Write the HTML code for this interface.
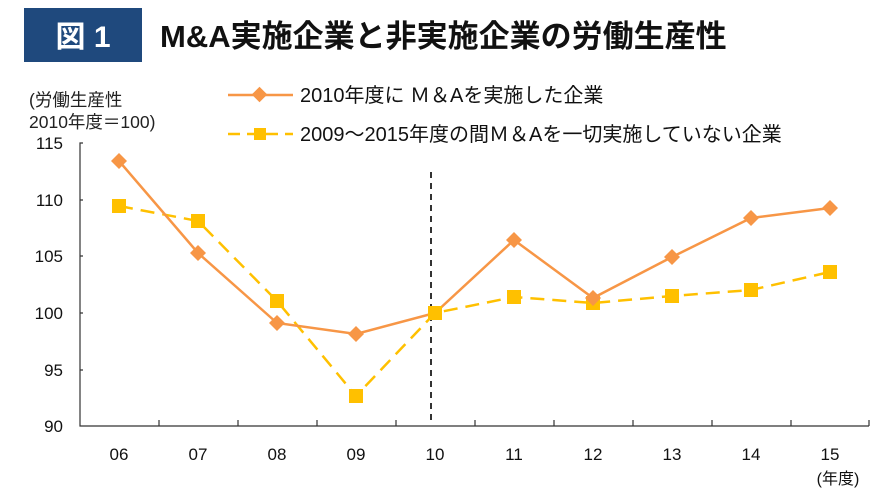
<!DOCTYPE html>
<html><head><meta charset="utf-8"><style>
body{margin:0;background:#fff;width:883px;height:491px;overflow:hidden;font-family:"Liberation Sans","Noto Sans CJK JP",sans-serif;}
</style></head><body>
<svg width="883" height="491" xmlns="http://www.w3.org/2000/svg" font-family="Liberation Sans, Noto Sans CJK JP, sans-serif">
<rect x="24" y="8" width="118" height="54" fill="#1f497d"/>
<text x="83" y="47" fill="#fff" font-size="30" font-weight="bold" text-anchor="middle">図 1</text>
<text x="160" y="47" fill="#111" font-size="31" font-weight="bold">M&amp;A実施企業と非実施企業の労働生産性</text>
<text x="29" y="106" font-size="17.5" fill="#222">(労働生産性</text>
<text x="29" y="128" font-size="17.5" fill="#222">2010年度＝100)</text>
<line x1="228" y1="95" x2="293" y2="95" stroke="#f79646" stroke-width="2.5"/>
<rect x="254" y="89" width="11" height="11" fill="#f79646" transform="rotate(45 259.5 94.5)"/>
<text x="300" y="102" font-size="20" fill="#111">2010年度に Ｍ＆Aを実施した企業</text>
<line x1="228" y1="134" x2="293" y2="134" stroke="#ffc000" stroke-width="2.5" stroke-dasharray="12,7"/>
<rect x="254" y="128" width="12" height="12" fill="#ffc000"/>
<text x="300" y="141" font-size="20" fill="#111">2009～2015年度の間Ｍ＆Aを一切実施していない企業</text>
<g font-size="17" fill="#111" text-anchor="end">
<text x="63" y="149">115</text><text x="63" y="206">110</text><text x="63" y="262">105</text>
<text x="63" y="319">100</text><text x="63" y="376">95</text><text x="63" y="432">90</text>
</g>
<g stroke="#333" stroke-width="1.2" fill="none">
<path d="M83 143 H80 V426 H869"/>
<path d="M80 200 H83 M80 256 H83 M80 313 H83 M80 370 H83"/>
<path d="M159 426 V420 M238 426 V420 M317 426 V420 M396 426 V420 M475 426 V420 M554 426 V420 M633 426 V420 M712 426 V420 M791 426 V420 M869 426 V420"/>
</g>
<line x1="431" y1="172" x2="431" y2="422" stroke="#333" stroke-width="2" stroke-dasharray="6,5"/>
<g font-size="17" fill="#111" text-anchor="middle">
<text x="119" y="460">06</text><text x="198" y="460">07</text><text x="277" y="460">08</text><text x="356" y="460">09</text><text x="435" y="460">10</text>
<text x="514" y="460">11</text><text x="593" y="460">12</text><text x="672" y="460">13</text><text x="751" y="460">14</text><text x="830" y="460">15</text>
<text x="838" y="484" font-size="16">(年度)</text>
</g>
<polyline fill="none" stroke="#ffc000" stroke-width="2.5" stroke-dasharray="14,8" points="119,206 198,221 277,301 356,396 435,313 514,297 593,303 672,296 751,290 830,272"/>
<g fill="#ffc000">
<rect x="112" y="199" width="14" height="14"/><rect x="191" y="214" width="14" height="14"/><rect x="270" y="294" width="14" height="14"/><rect x="349" y="389" width="14" height="14"/><rect x="428" y="306" width="14" height="14"/>
<rect x="507" y="290" width="14" height="14"/><rect x="586" y="296" width="14" height="14"/><rect x="665" y="289" width="14" height="14"/><rect x="744" y="283" width="14" height="14"/><rect x="823" y="265" width="14" height="14"/>
</g>
<polyline fill="none" stroke="#f79646" stroke-width="2.5" points="119,161 198,253 277,323 356,334 435,313 514,240 593,298 672,257 751,218 830,208"/>
<g fill="#f79646">
<path d="M119 153 l8 8 -8 8 -8 -8z"/><path d="M198 245 l8 8 -8 8 -8 -8z"/><path d="M277 315 l8 8 -8 8 -8 -8z"/><path d="M356 326 l8 8 -8 8 -8 -8z"/>
<path d="M514 232 l8 8 -8 8 -8 -8z"/><path d="M593 290 l8 8 -8 8 -8 -8z"/><path d="M672 249 l8 8 -8 8 -8 -8z"/><path d="M751 210 l8 8 -8 8 -8 -8z"/><path d="M830 200 l8 8 -8 8 -8 -8z"/>
</g>
<rect x="428" y="306" width="14" height="14" fill="#ffc000"/>
</svg>
</body></html>
